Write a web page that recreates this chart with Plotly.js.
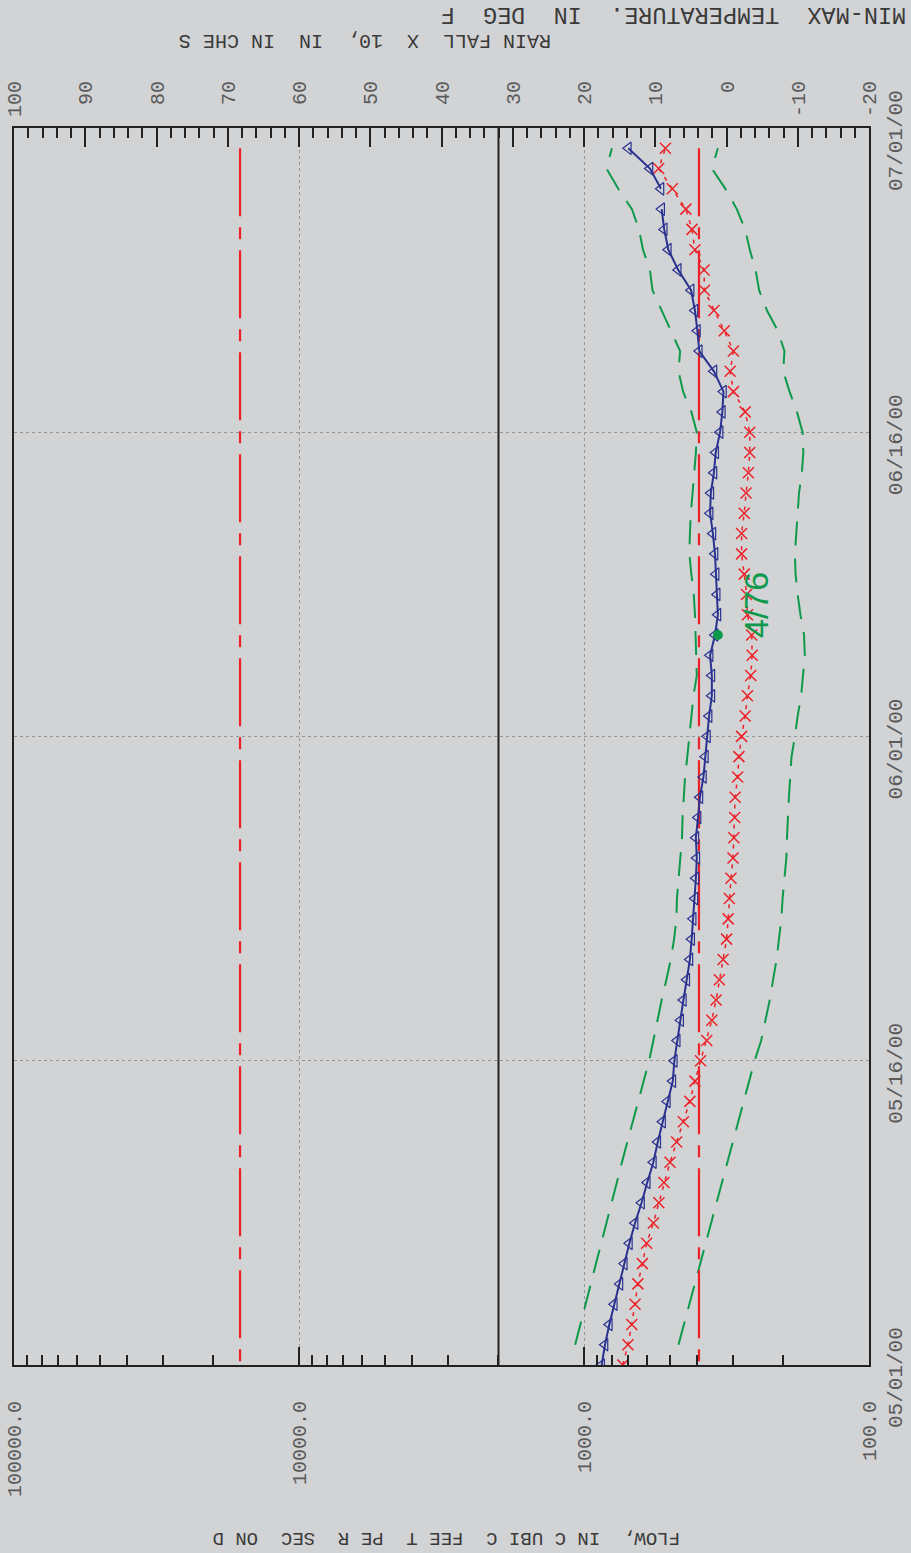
<!DOCTYPE html>
<html><head><meta charset="utf-8">
<script src="https://cdn.plot.ly/plotly-3.0.1.min.js"></script>
<style>
html,body{margin:0;padding:0;width:911px;height:1553px;overflow:hidden;background:#d2d3d5;}
#chart{position:absolute;left:0;top:0;width:1553px;height:911px;transform-origin:0 0;transform:translateY(1553px) rotate(-90deg);}
</style></head><body><div id="chart"></div>
<script>
// ---- data ----
const startYear = 2000, startMonth = 5, dayCount = 61;
const dates = [];
for (let i = 0; i < dayCount; i++) {
  const d = new Date(Date.UTC(startYear, startMonth - 1, 1 + i));
  dates.push(d.toISOString().slice(0, 10));
}
// daily flow (blue triangles), cfs
const dailyFlow = [867,844,815,783,748,722,693,662,628,600,571,551,530,510,488,482,471,458,448,436,425,419,414,408,405,402,405,398,392,381,375,369,364,356,356,361,347,339,341,344,347,353,361,359,350,345,333,327,324,350,394,400,408,421,467,506,523,534,537,587,699];
// red X series
const medianFlow = [731,701,680,662,647,624,603,571,546,524,499,473,448,425,408,390,371,356,344,335,325,316,312,309,305,300,298,296,295,289,286,280,272,267,260,257,258,267,269,274,280,280,274,270,265,262,262,272,299,307,299,322,350,378,379,408,418,439,490,547,518];
// green dashed envelope, from 05/02 to 06/30
const upperFlow = [1074,1029,987,946,908,870,834,800,767,736,705,676,648,619,591,571,553,534,514,496,483,474,472,466,458,453,451,447,442,434,427,420,413,402,405,406,408,412,420,427,425,422,416,410,405,402,420,449,466,460,495,532,575,587,621,641,679,758,834,798];
const lowerFlow = [466,446,426,408,391,374,358,342,328,314,300,287,275,262,252,239,231,223,217,211,207,203,201,198,195,194,193,191,189,187,182,178,173,171,168,169,174,178,181,182,180,179,176,172,170,171,179,190,200,198,209,228,243,250,262,272,291,319,356,339];
// reference flows (red dash-dot)
const refFlows = [395, 16100];
const freezingTemp = 32;
// note
const noteText = '4/76';
const noteDate = '2000-06-07 12:00';
const noteFlow = 249;
const pointDate = '2000-06-06';
const pointFlow = 339;
// axis ticks
const dateTicks = ['2000-05-01','2000-05-16','2000-06-01','2000-06-16','2000-07-01'];
const dateLabels = ['05/01/00','05/16/00','06/01/00','06/16/00','07/01/00'];
const flowTicks = [100,1000,10000,100000];
const flowLabels = ['100.0','1000.0','10000.0','100000.0'];
const tempTicks = [-20,-10,0,10,20,30,40,50,60,70,80,90,100];
const tempLabels = ['-20','-10','\u00a0\u00a00','\u00a010','\u00a020','\u00a030','\u00a040','\u00a050','\u00a060','\u00a070','\u00a080','\u00a090','100'];
const flowTitle = 'FLOW,\u00a0\u00a0IN C UBI C\u00a0\u00a0FEE T\u00a0\u00a0PE R\u00a0\u00a0SEC\u00a0\u00a0ON D';
const tempTitle = 'MIN-MAX\u00a0\u00a0TEMPERATURE.\u00a0\u00a0IN\u00a0\u00a0DEG\u00a0\u00a0F';
const rainTitle = 'RAIN FALL\u00a0\u00a0X\u00a0\u00a010,\u00a0\u00a0IN\u00a0\u00a0IN CHE S';

// ---- styles ----
const BG = '#d2d3d5', BLUE = '#2a3290', RED = '#ec2228', GREEN = '#0e9a4c', INK = '#222222';
const MONO = 'Liberation Mono, DejaVu Sans Mono, monospace';

const minorFlow = [];
[100,1000,10000].forEach(b => { for (let m = 2; m <= 9; m++) minorFlow.push(b*m); });

const firstDays = dates.slice(1);
const traces = [
  {x: firstDays, y: upperFlow, mode:'lines', line:{color:GREEN, width:2, dash:'24px,13px'}},
  {x: firstDays, y: lowerFlow, mode:'lines', line:{color:GREEN, width:2, dash:'24px,13px'}},
];
refFlows.forEach(v => traces.push({x:[dates[dayCount-1], dates[0]], y:[v, v], mode:'lines', line:{color:RED, width:2.2, dash:'68px,11px,12px,11px'}}));
traces.push({x: dates, y: medianFlow, mode:'lines+markers', line:{color:RED, width:1.5, dash:'4px,6px'}, marker:{symbol:'x-thin-open', size:11, line:{color:RED, width:1.5}}});
traces.push({x: dates.slice(0,58), y: dailyFlow.slice(0,58), mode:'lines+markers', line:{color:BLUE, width:2}, marker:{symbol:'triangle-up-open', size:11, color:BLUE, line:{color:BLUE, width:1.2}}});
traces.push({x: dates.slice(58), y: dailyFlow.slice(58), mode:'lines+markers', line:{color:BLUE, width:2}, marker:{symbol:'triangle-up-open', size:11, color:BLUE, line:{color:BLUE, width:1.2}}});
traces.push({x:[pointDate], y:[pointFlow], mode:'markers', marker:{color:GREEN, size:10}});
// temperature axis anchor trace (invisible)
traces.push({x:[dates[0]], y:[freezingTemp], yaxis:'y2', mode:'markers', marker:{opacity:0}, hoverinfo:'skip'});

const pad = '\u00a0\u00a0';
const layout = {
  width:1553, height:911, showlegend:false,
  paper_bgcolor:BG, plot_bgcolor:BG,
  margin:{l:188, r:128, t:14, b:42},
  font:{family:MONO, color:'#555'},
  xaxis:{type:'date', range:['2000-05-01','2000-07-01'], tickmode:'array', tickvals:dateTicks, ticktext:dateLabels.map(s => s + pad),
    ticks:'', showgrid:true, gridcolor:'#959595', griddash:'dot', gridwidth:1, zeroline:false,
    showline:true, linecolor:INK, linewidth:2, mirror:true, ticklabelstandoff:6,
    tickfont:{family:MONO, size:21, color:'#5a5a5a'}},
  yaxis:{type:'log', range:[2,5], tickmode:'array', tickvals:flowTicks, ticktext:flowLabels,
    ticks:'inside', ticklen:18, tickwidth:2, tickcolor:INK,
    minor:{tickmode:'array', tickvals:minorFlow, ticks:'inside', ticklen:10, tickwidth:2, tickcolor:INK, showgrid:false},
    showgrid:true, gridcolor:'#959595', griddash:'dot', gridwidth:1, zeroline:false,
    showline:true, linecolor:INK, linewidth:2, mirror:true, ticklabelstandoff:30,
    tickfont:{family:MONO, size:20, color:'#5a5a5a'}},
  yaxis2:{overlaying:'y', side:'right', range:[-20,100], tickmode:'array', tickvals:tempTicks, ticktext:tempLabels,
    ticks:'inside', ticklen:19, tickwidth:2, tickcolor:INK,
    minor:{tick0:-20, dtick:2, ticks:'inside', ticklen:10, tickwidth:2, tickcolor:INK, showgrid:false},
    showgrid:false, zeroline:false, showline:false, ticklabelstandoff:10,
    tickfont:{family:MONO, size:20, color:'#5a5a5a'}},
  shapes:[{type:'line', xref:'paper', x0:0, x1:1, yref:'y2', y0:freezingTemp, y1:freezingTemp, line:{color:INK, width:2}}],
  annotations:[
    {text:noteText, x:noteDate, y:Math.log10(noteFlow), xref:'x', yref:'y', xanchor:'center', yanchor:'middle', showarrow:false, font:{family:'Liberation Sans, sans-serif', size:34, color:GREEN}},
    {text:flowTitle, xref:'paper', yref:'paper', x:-0.1399, y:0.4947, xanchor:'center', yanchor:'middle', textangle:-90, showarrow:false, font:{family:MONO, size:19, color:'#3a3a3a'}},
    {text:tempTitle, xref:'paper', yref:'paper', x:1.0914, y:0.228, xanchor:'center', yanchor:'middle', textangle:-90, showarrow:false, font:{family:MONO, size:23.5, color:'#3a3a3a'}},
    {text:rainTitle, xref:'paper', yref:'paper', x:1.0711, y:0.5895, xanchor:'center', yanchor:'middle', textangle:-90, showarrow:false, font:{family:MONO, size:20, color:'#3a3a3a'}}
  ]
};

Plotly.newPlot('chart', traces, layout, {staticPlot:true, displayModeBar:false});
</script></body></html>
